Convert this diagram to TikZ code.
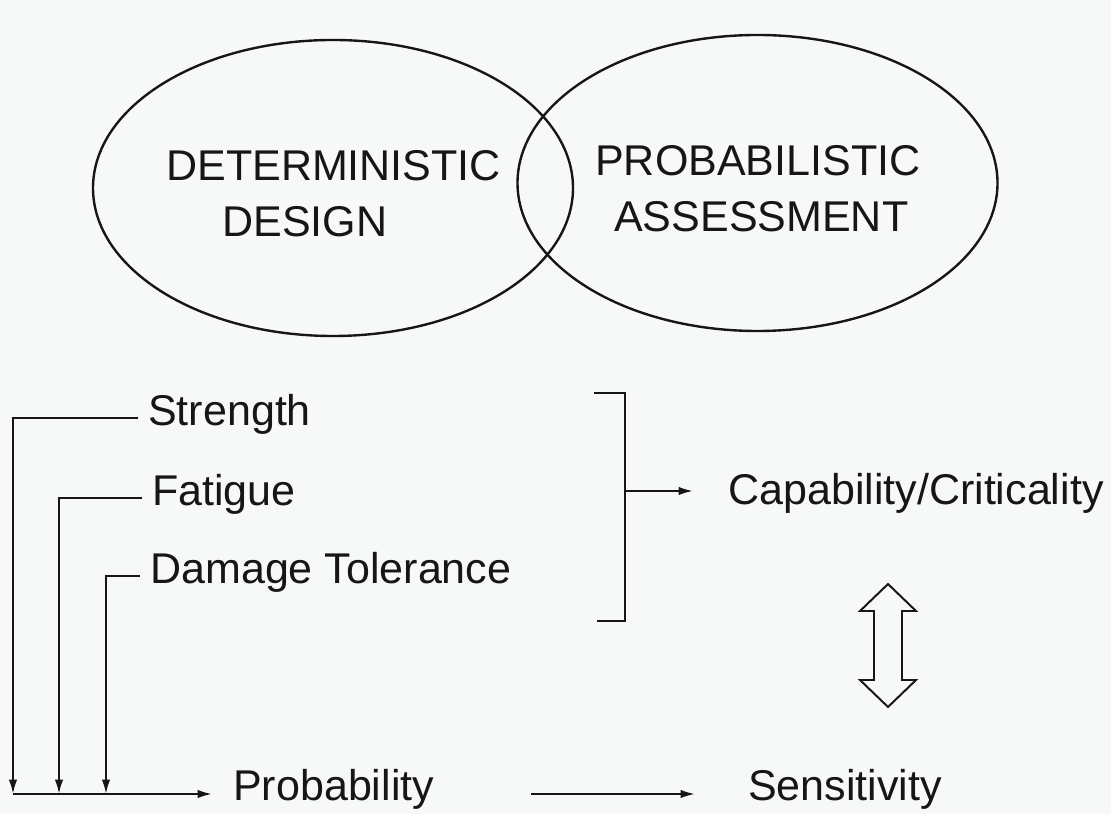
\documentclass[tikz,border=0pt]{standalone}
\usepackage{fontspec}
\setmainfont{Liberation Sans}
\usetikzlibrary{arrows.meta,shapes.geometric}
\definecolor{paper}{RGB}{247,248,248}
\definecolor{ink}{RGB}{22,22,22}

\begin{document}
\begin{tikzpicture}[
      font=\fontsize{30.6}{36}\selectfont,
      txt/.style={anchor=base west, inner sep=0pt, text=ink},
      venn/.style={draw=ink, ellipse, line width=1.7pt, minimum width=12cm, minimum height=7.4cm},
      arrow/.style={-{Latex[length=3.6mm,width=2.1mm]}, draw=ink, line width=1.4pt},
      wire/.style={draw=ink, line width=1.4pt},
      hollow/.style={draw=ink, line width=1.4pt, fill=paper, line join=miter}
    ]
      \fill[paper] (0,0) rectangle (27.775,20.35);
      \useasboundingbox (0,0) rectangle (27.775,20.35);

      \node[venn] (detell) at (8.325,15.65) {};
      \node[venn] (probell) at (18.9375,15.775) {};
      \node[txt] (determ) at (4.15,15.825) {DETERMINISTIC};
      \node[txt] (design) at (5.55,14.425) {DESIGN};
      \node[txt] (probab) at (14.875,15.95) {PROBABILISTIC};
      \node[txt] (assess) at (15.35,14.55) {ASSESSMENT};

      \node[txt] (strength) at (3.7,9.7) {Strength};
      \node[txt] (fatigue) at (3.8,7.7) {Fatigue};
      \node[txt] (damage) at (3.75,5.75) {Damage Tolerance};
      \node[txt] (capab) at (18.2,7.725) {Capability/Criticality};
      \node[txt] (prob) at (5.825,0.35) {Probability};
      \node[txt] (sens) at (18.7,0.35) {Sensitivity};

      \coordinate (s1) at (0.325,0.5);
      \coordinate (s2) at (1.475,0.5);
      \coordinate (s3) at (2.65,0.5);
      \coordinate (pin) at (5.3,0.5);
      \coordinate (brtop) at (14.85,10.525);
      \coordinate (brbot) at (14.925,4.825);
      \coordinate (brmid) at (15.625,8.075);
      \coordinate (captip) at (17.325,8.075);
      \coordinate (sensin) at (17.375,0.5);
      \coordinate (probout) at (13.275,0.5);
      \coordinate (dblc) at (22.2,4.2125);

      \draw[arrow] ([shift={(-0.25,0.2)}]strength.base west) -| (s1);
      \draw[arrow] ([shift={(-0.25,0.2)}]fatigue.base west) -| (s2);
      \draw[arrow] ([shift={(-0.25,0.2)}]damage.base west) -| (s3);
      \draw[arrow] (s1) -- (pin);
      \draw[arrow] (probout) -- (sensin);

      \draw[wire] (brtop) -- (brtop -| brmid) -- (brbot -| brmid) -- (brbot);
      \draw[arrow] (brmid) -- (captip);

      \draw[hollow] (dblc) ++(0,1.5375) -- ++(0.7,-0.675) -- ++(-0.35,0) -- ++(0,-1.725)
        -- ++(0.35,0) -- ++(-0.7,-0.675) -- ++(-0.7,0.675) -- ++(0.35,0) -- ++(0,1.725)
        -- ++(-0.35,0) -- cycle;
    \end{tikzpicture}
\end{document}
